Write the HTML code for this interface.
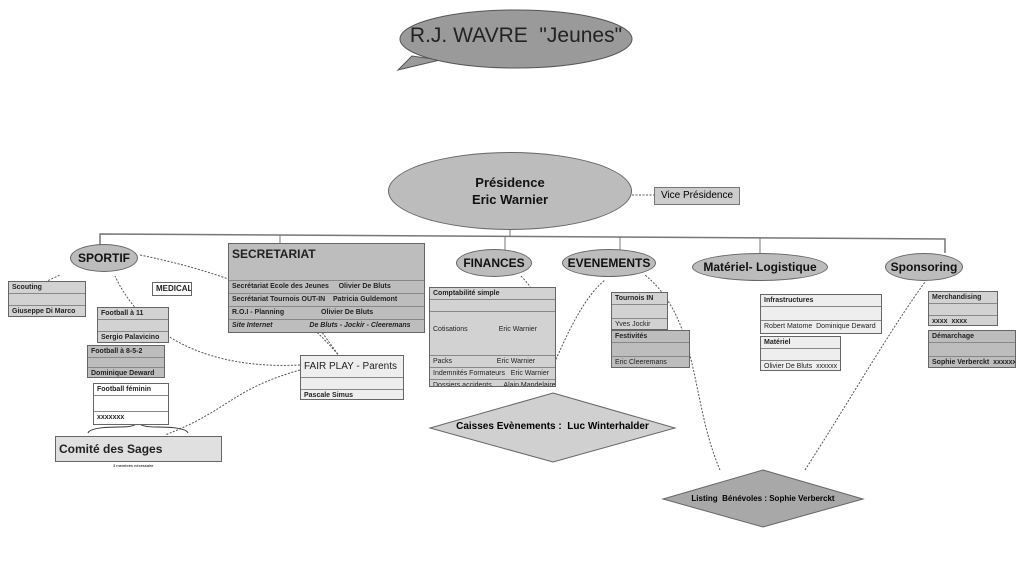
<!DOCTYPE html>
<html><head><meta charset="utf-8"><style>
body{margin:0;width:1024px;height:588px;background:#fff;position:relative;overflow:hidden;font-family:"Liberation Sans",sans-serif}
.a{position:absolute;box-sizing:border-box}
.t{position:absolute;box-sizing:border-box;border:1px solid #666;background:#d2d2d2;font-size:7px;font-weight:bold;color:#222;overflow:hidden}
.t div{box-sizing:border-box;border-bottom:1px solid #888;padding:1px 3px;line-height:9px;white-space:nowrap;overflow:hidden}
.t div:last-child{border-bottom:none}
.g{background:#bdbdbd}
.e{position:absolute;border:1px solid #666;background:#bcbcbc;border-radius:50%;display:flex;align-items:center;justify-content:center;font-weight:bold;color:#111;box-sizing:border-box;white-space:nowrap}
</style></head><body>
<svg class="a" style="left:0;top:0" width="1024" height="588">
<path d="M412 56 L398 70 L440 60 Z" fill="#9a9a9a" stroke="#555"/>
<ellipse cx="516" cy="39" rx="116" ry="29" fill="#9a9a9a" stroke="#555"/>
<polyline points="100,248 100,234 945,239 945,253" fill="none" stroke="#777" stroke-width="1.5"/>
<line x1="280" y1="235" x2="280" y2="243" stroke="#777"/>
<line x1="505" y1="236" x2="505" y2="250" stroke="#777"/>
<line x1="620" y1="237" x2="620" y2="250" stroke="#777"/>
<line x1="760" y1="238" x2="760" y2="253" stroke="#777"/>
<line x1="510" y1="230" x2="510" y2="236" stroke="#777"/>
<g fill="none" stroke="#555" stroke-dasharray="2,1.5" stroke-width="1">
<line x1="632" y1="195" x2="654" y2="195"/>
<path d="M340 357 C 300 310 260 280 140 255"/>
<path d="M300 365 C 200 370 140 330 115 276"/>
<path d="M300 370 C 230 390 230 410 165 435"/>
<path d="M340 357 C 320 330 300 300 285 290"/>
<path d="M45 282 L 60 275"/>
<path d="M545 385 C 560 340 545 300 520 275"/>
<path d="M545 385 C 560 350 580 300 605 280"/>
<path d="M720 470 C 690 400 700 320 645 275"/>
<path d="M805 470 C 850 400 890 330 925 282"/>
</g>
<path d="M88 433 Q90 427 120 427 Q136 427 138 422 Q140 427 156 427 Q186 427 188 433" fill="none" stroke="#333"/>
<polygon points="553,393 675,428 553,462 430,428" fill="#d0d0d0" stroke="#666"/>
<polygon points="763,470 863,499 763,527 663,499" fill="#a8a8a8" stroke="#666"/>
</svg>
<div class="a" style="top:24px;left:403px;width:226px;text-align:center;font-size:21px;color:#222;white-space:nowrap">R.J. WAVRE &nbsp;"Jeunes"</div>
<div class="e" style="left:388px;top:152px;width:244px;height:78px;font-size:13px;text-align:center;line-height:17px">Présidence<br>Eric Warnier</div>
<div class="a" style="left:654px;top:187px;width:86px;height:18px;border:1px solid #777;background:#ccc;font-size:10px;text-align:center;line-height:16px">Vice Présidence</div>
<div class="e" style="left:70px;top:244px;width:68px;height:28px;font-size:12px">SPORTIF</div>
<div class="e" style="left:456px;top:249px;width:76px;height:28px;font-size:12px">FINANCES</div>
<div class="e" style="left:562px;top:249px;width:94px;height:28px;font-size:12px">EVENEMENTS</div>
<div class="e" style="left:692px;top:253px;width:136px;height:28px;font-size:12px">Matériel- Logistique</div>
<div class="e" style="left:885px;top:253px;width:78px;height:28px;font-size:12px">Sponsoring</div>
<div class="t g" style="left:228px;top:243px;width:197px;height:90px">
<div style="font-size:12px;height:24px;line-height:18px;border-bottom:none">SECRETARIAT</div>
<div style="height:13px"></div>
<div style="height:13px">Secrétariat Ecole des Jeunes &nbsp;&nbsp;&nbsp;&nbsp;Olivier De Bluts</div>
<div style="height:13px">Secrétariat Tournois OUT-IN &nbsp;&nbsp;&nbsp;Patricia Guldemont</div>
<div style="height:13px">R.O.I - Planning &nbsp;&nbsp;&nbsp;&nbsp;&nbsp;&nbsp;&nbsp;&nbsp;&nbsp;&nbsp;&nbsp;&nbsp;&nbsp;&nbsp;&nbsp;&nbsp;&nbsp;&nbsp;Olivier De Bluts</div>
<div style="font-style:italic">Site Internet &nbsp;&nbsp;&nbsp;&nbsp;&nbsp;&nbsp;&nbsp;&nbsp;&nbsp;&nbsp;&nbsp;&nbsp;&nbsp;&nbsp;&nbsp;&nbsp;&nbsp;&nbsp;De Bluts - Jockir - Cleeremans</div>
</div>
<div class="t" style="left:8px;top:281px;width:78px;height:36px"><div>Scouting</div><div style="height:12px"></div><div>Giuseppe Di Marco</div></div>
<div class="t" style="left:152px;top:282px;width:40px;height:14px;background:#fff;font-size:8px"><div>MEDICAL</div></div>
<div class="t" style="left:97px;top:307px;width:72px;height:36px"><div>Football à 11</div><div style="height:12px"></div><div>Sergio Palavicino</div></div>
<div class="t g" style="left:87px;top:345px;width:78px;height:33px"><div>Football à 8-5-2</div><div style="height:10px"></div><div>Dominique Deward</div></div>
<div class="t" style="left:93px;top:383px;width:76px;height:42px;background:#fff"><div>Football féminin</div><div style="height:16px"></div><div>xxxxxxx</div></div>
<div class="t" style="left:55px;top:436px;width:167px;height:26px;font-size:12px;background:#e0e0e0"><div style="padding:6px 3px;line-height:13px">Comité des Sages</div></div>
<div class="t" style="left:300px;top:355px;width:104px;height:45px;background:#eee"><div style="font-size:10px;padding:5px 3px;line-height:11px;font-weight:normal">FAIR PLAY - Parents</div><div style="height:12px"></div><div>Pascale Simus</div></div>
<div class="t" style="left:429px;top:287px;width:127px;height:100px;font-weight:normal">
<div style="font-weight:bold">Comptabilité simple</div><div style="height:12px"></div>
<div style="height:44px;line-height:34px">Cotisations &nbsp;&nbsp;&nbsp;&nbsp;&nbsp;&nbsp;&nbsp;&nbsp;&nbsp;&nbsp;&nbsp;&nbsp;&nbsp;&nbsp;&nbsp;Eric Warnier</div>
<div>Packs &nbsp;&nbsp;&nbsp;&nbsp;&nbsp;&nbsp;&nbsp;&nbsp;&nbsp;&nbsp;&nbsp;&nbsp;&nbsp;&nbsp;&nbsp;&nbsp;&nbsp;&nbsp;&nbsp;&nbsp;&nbsp;&nbsp;Eric Warnier</div>
<div>Indemnités Formateurs &nbsp;&nbsp;Eric Warnier</div>
<div>Dossiers accidents &nbsp;&nbsp;&nbsp;&nbsp;&nbsp;Alain Mandelaire</div></div>
<div class="t" style="left:611px;top:292px;width:57px;height:38px"><div>Tournois IN</div><div style="height:14px"></div><div style="font-weight:normal">Yves Jockir</div></div>
<div class="t g" style="left:611px;top:330px;width:79px;height:38px"><div>Festivités</div><div style="height:14px"></div><div style="font-weight:normal">Eric Cleeremans</div></div>
<div class="t" style="left:760px;top:294px;width:122px;height:40px;background:#eee"><div>Infrastructures</div><div style="height:14px"></div><div style="font-weight:normal">Robert Matome &nbsp;Dominique Deward</div></div>
<div class="t" style="left:760px;top:336px;width:81px;height:35px;background:#eee"><div>Matériel</div><div style="height:12px"></div><div style="font-weight:normal">Olivier De Bluts &nbsp;xxxxxx</div></div>
<div class="t" style="left:928px;top:291px;width:70px;height:35px"><div>Merchandising</div><div style="height:12px"></div><div>xxxx &nbsp;xxxx</div></div>
<div class="t g" style="left:928px;top:330px;width:88px;height:38px"><div>Démarchage</div><div style="height:14px"></div><div>Sophie Verberckt &nbsp;xxxxxx</div></div>
<div class="a" style="left:430px;top:421px;width:245px;text-align:center;font-size:10px;font-weight:bold">Caisses Evènements : &nbsp;Luc Winterhalder</div>
<div class="a" style="left:663px;top:494px;width:200px;text-align:center;font-size:8px;font-weight:bold">Listing &nbsp;Bénévoles : Sophie Verberckt</div>
<div class="a" style="left:113px;top:463px;font-size:4px">3 membres nécessaire</div>
</body></html>
